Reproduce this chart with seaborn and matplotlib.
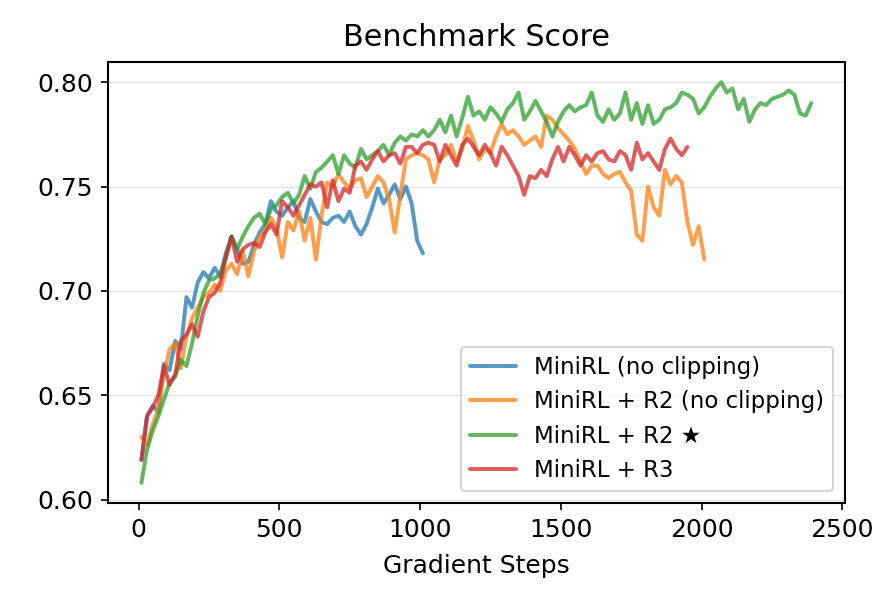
import numpy as np
import pandas as pd
import matplotlib
matplotlib.use('Agg')
import matplotlib.pyplot as plt
import seaborn as sns

labels = ['MiniRL (no clipping)', 'MiniRL + R2 (no clipping)', 'MiniRL + R2 \u2605', 'MiniRL + R3']
colors = ['#1f77b4', '#ff7f0e', '#2ca02c', '#d62728']

steps_blue = np.arange(10, 1011, 20)
blue = [0.619, 0.640, 0.645, 0.642, 0.665, 0.662, 0.676, 0.672, 0.697, 0.692,
        0.704, 0.709, 0.706, 0.711, 0.707, 0.718, 0.726, 0.720, 0.713, 0.714,
        0.722, 0.728, 0.732, 0.743, 0.738, 0.736, 0.740, 0.743, 0.735, 0.733,
        0.744, 0.738, 0.733, 0.732, 0.735, 0.736, 0.733, 0.738, 0.731, 0.727,
        0.732, 0.740, 0.749, 0.742, 0.746, 0.751, 0.744, 0.750, 0.742, 0.724,
        0.718]

steps_orange = np.arange(10, 2011, 20)
orange = [0.630, 0.626, 0.636, 0.643, 0.660, 0.672, 0.675, 0.663, 0.678, 0.687,
          0.692, 0.697, 0.699, 0.703, 0.700, 0.710, 0.713, 0.708, 0.719, 0.707,
          0.719, 0.726, 0.729, 0.735, 0.730, 0.716, 0.733, 0.729, 0.738, 0.724,
          0.735, 0.715, 0.736, 0.752, 0.750, 0.756, 0.752, 0.749, 0.753, 0.754,
          0.745, 0.750, 0.755, 0.752, 0.744, 0.728, 0.746, 0.763, 0.765, 0.766,
          0.765, 0.763, 0.752, 0.763, 0.765, 0.770, 0.762, 0.768, 0.779, 0.772,
          0.763, 0.768, 0.766, 0.774, 0.780, 0.775, 0.777, 0.774, 0.770, 0.772,
          0.774, 0.769, 0.784, 0.782, 0.778, 0.775, 0.772, 0.768, 0.762, 0.756,
          0.760, 0.760, 0.756, 0.754, 0.756, 0.757, 0.752, 0.748, 0.727, 0.724,
          0.750, 0.740, 0.736, 0.758, 0.751, 0.755, 0.752, 0.733, 0.722, 0.731,
          0.715]

steps_green = np.arange(10, 2391, 20)
green = [0.608, 0.624, 0.633, 0.640, 0.648, 0.656, 0.659, 0.667, 0.664, 0.675,
         0.688, 0.699, 0.705, 0.706, 0.708, 0.716, 0.726, 0.720, 0.726, 0.731,
         0.735, 0.737, 0.732, 0.739, 0.741, 0.745, 0.747, 0.742, 0.746, 0.755,
         0.749, 0.757, 0.759, 0.762, 0.765, 0.756, 0.765, 0.761, 0.759, 0.768,
         0.763, 0.765, 0.767, 0.770, 0.765, 0.771, 0.774, 0.772, 0.775, 0.774,
         0.777, 0.774, 0.777, 0.782, 0.776, 0.784, 0.774, 0.783, 0.793, 0.784,
         0.786, 0.782, 0.788, 0.785, 0.781, 0.787, 0.790, 0.795, 0.782, 0.786,
         0.791, 0.786, 0.781, 0.774, 0.781, 0.786, 0.789, 0.786, 0.788, 0.789,
         0.795, 0.784, 0.781, 0.787, 0.782, 0.785, 0.795, 0.782, 0.790, 0.780,
         0.789, 0.780, 0.782, 0.787, 0.788, 0.790, 0.795, 0.794, 0.792, 0.785,
         0.788, 0.793, 0.797, 0.800, 0.795, 0.797, 0.787, 0.792, 0.781, 0.787,
         0.790, 0.789, 0.792, 0.793, 0.794, 0.796, 0.794, 0.785, 0.784, 0.790]

steps_red = np.arange(10, 1951, 20)
red = [0.619, 0.640, 0.644, 0.650, 0.664, 0.655, 0.660, 0.676, 0.679, 0.684,
       0.678, 0.690, 0.697, 0.699, 0.704, 0.716, 0.726, 0.714, 0.720, 0.722,
       0.723, 0.721, 0.728, 0.732, 0.727, 0.743, 0.740, 0.736, 0.741, 0.746,
       0.751, 0.750, 0.752, 0.740, 0.753, 0.743, 0.749, 0.747, 0.760, 0.762,
       0.758, 0.763, 0.767, 0.762, 0.765, 0.766, 0.761, 0.769, 0.769, 0.766,
       0.770, 0.771, 0.770, 0.762, 0.770, 0.765, 0.760, 0.770, 0.773, 0.769,
       0.765, 0.770, 0.766, 0.760, 0.769, 0.765, 0.760, 0.755, 0.746, 0.755,
       0.754, 0.758, 0.755, 0.763, 0.769, 0.762, 0.769, 0.765, 0.760, 0.765,
       0.762, 0.766, 0.767, 0.763, 0.762, 0.767, 0.765, 0.758, 0.771, 0.763,
       0.766, 0.762, 0.758, 0.768, 0.773, 0.768, 0.765, 0.769]

frames = []
for lab, st, vals in zip(labels, [steps_blue, steps_orange, steps_green, steps_red],
                         [blue, orange, green, red]):
    frames.append(pd.DataFrame({'step': st, 'score': vals, 'run': lab}))
df = pd.concat(frames, ignore_index=True)

sns.set_style('ticks')
plt.rcParams['font.family'] = ['DejaVu Sans']
plt.rcParams.update({'text.color': 'black', 'axes.labelcolor': 'black',
                     'xtick.color': 'black', 'ytick.color': 'black',
                     'axes.edgecolor': 'black'})

fig, ax = plt.subplots(figsize=(5.947, 3.987), dpi=150)
fig.subplots_adjust(left=0.121, right=0.947, top=0.896, bottom=0.159)

sns.lineplot(data=df, x='step', y='score', hue='run', hue_order=labels,
             palette=colors, linewidth=1.9, alpha=0.75, ax=ax)

ax.grid(axis='y', color='#e0e0e0', linewidth=0.6)
ax.set_axisbelow(True)
ax.set_title('Benchmark Score', fontsize=14.5, pad=8)
ax.set_xlabel('Gradient Steps', fontsize=12, labelpad=6)
ax.set_ylabel('')
ax.set_yticks([0.60, 0.65, 0.70, 0.75, 0.80])
ax.set_xticks([0, 500, 1000, 1500, 2000, 2500])
ax.tick_params(labelsize=12)
for s in ax.spines.values():
    s.set_linewidth(1.0)

leg = ax.legend(loc='lower right', fontsize=11, title=None, frameon=True)
for line in leg.get_lines():
    line.set_linewidth(1.9)

plt.savefig('out.png', dpi=150)
